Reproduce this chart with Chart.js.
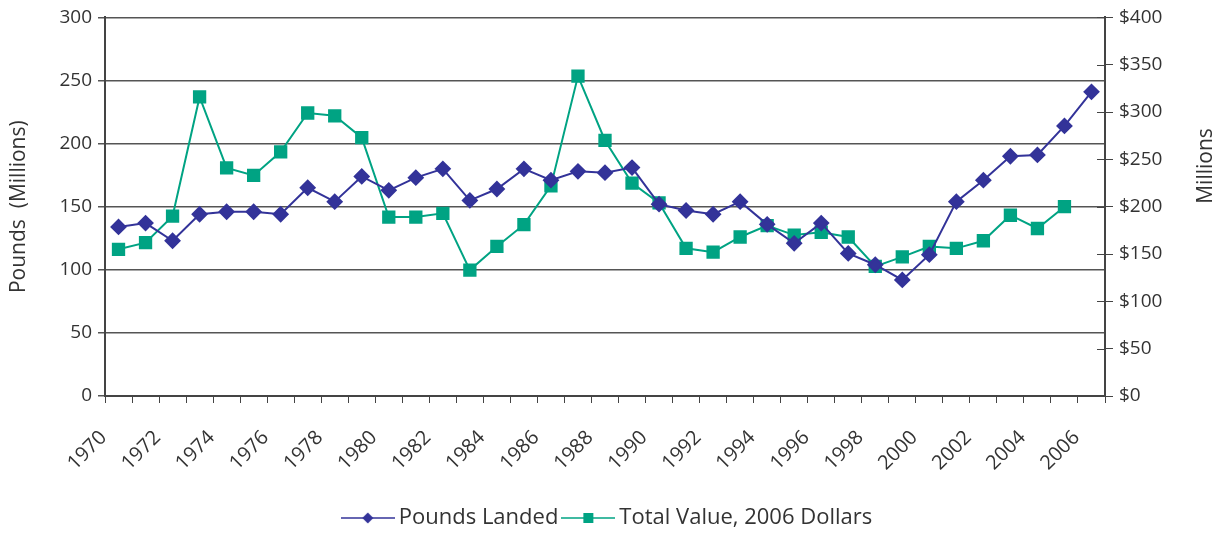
<!DOCTYPE html>
<html>
<head>
<meta charset="utf-8">
<script src="https://cdn.jsdelivr.net/npm/chart.js@4.4.1/dist/chart.umd.min.js"></script>
<style>
  html, body { margin: 0; padding: 0; background: #fff; }
  #wrap { width: 1220px; height: 535px; }
</style>
</head>
<body>
<div id="wrap"><canvas id="chart"></canvas></div>
<script>
// Data
var years = [];
for (var y = 1970; y <= 2006; y++) years.push(String(y));

var poundsLanded = [134, 137, 123, 144, 146, 146, 144, 165, 154, 174, 163, 173, 180, 155, 164, 180, 171, 178, 177, 181,
                    152, 147, 144, 154, 136, 121, 137, 113, 104, 92, 112, 154, 171, 190, 191, 214, 241];
var totalValue = [155, 162, 190, 316, 241, 233, 258, 299, 296, 273, 189, 189, 193, 133, 158, 181, 222, 338, 270, 225,
                  204, 156, 152, 168, 180, 170, 173, 168, 137, 147, 158, 156, 164, 191, 177, 200, null];

var navy = "#333399";
var teal = "#00A383";
var textColor = "#333333";
var axisColor = "#444444";
var fontFamily = "'Open Sans', sans-serif";

// legend swatch: a short line with the marker in the middle
function swatch(color, style) {
    var c = document.createElement("canvas");
    c.width = 54; c.height = 14;
    var g = c.getContext("2d");
    g.strokeStyle = color;
    g.lineWidth = 1.6;
    g.beginPath(); g.moveTo(0, 7); g.lineTo(54, 7); g.stroke();
    g.fillStyle = color;
    g.beginPath();
    if (style === "diamond") {
        g.moveTo(27, 1.5); g.lineTo(32.5, 7); g.lineTo(27, 12.5); g.lineTo(21.5, 7);
    } else {
        g.rect(22, 2, 10, 10);
    }
    g.closePath(); g.fill();
    return c;
}

// right axis: ticks crossing the line and title reading upwards
var rightAxisExtras = {
    id: "rightAxisExtras",
    afterDraw: function (chart) {
        var s = chart.scales.y2;
        var g = chart.ctx;
        g.save();
        g.strokeStyle = axisColor;
        g.lineWidth = 1;
        s.ticks.forEach(function (t) {
            var py = Math.round(s.getPixelForValue(t.value)) + 0.5;
            g.beginPath(); g.moveTo(s.left - 8, py); g.lineTo(s.left, py); g.stroke();
        });
        g.translate(1206, 166);
        g.rotate(-Math.PI / 2);
        g.fillStyle = textColor;
        g.font = "21px " + fontFamily;
        g.textAlign = "center";
        g.textBaseline = "middle";
        g.fillText("Millions", 0, 0);
        g.restore();
    }
};

var ctx = document.getElementById("chart").getContext("2d");
var chart = new Chart(ctx, {
    type: "line",
    data: {
        labels: years,
        datasets: [{
            label: "Pounds Landed",
            data: poundsLanded,
            yAxisID: "y",
            borderColor: navy,
            backgroundColor: navy,
            borderWidth: 2,
            pointStyle: "rectRot",
            pointRadius: 7,
            pointHoverRadius: 7,
            tension: 0
        }, {
            label: "Total Value, 2006 Dollars",
            data: totalValue,
            yAxisID: "y2",
            borderColor: teal,
            backgroundColor: teal,
            borderWidth: 2,
            pointStyle: "rect",
            pointRadius: 8,
            pointHoverRadius: 8,
            tension: 0
        }]
    },
    plugins: [rightAxisExtras],
    options: {
        responsive: true,
        maintainAspectRatio: false,
        animation: false,
        layout: { padding: { top: 10, right: 0, left: 0, bottom: -4 } },
        plugins: {
            tooltip: { enabled: false },
            legend: {
                position: "bottom",
                labels: {
                    usePointStyle: true,
                    pointStyleWidth: 40,
                    color: textColor,
                    font: { family: fontFamily, size: 22 },
                    padding: 10,
                    generateLabels: function (chart) {
                        return chart.data.datasets.map(function (ds, i) {
                            return {
                                text: ds.label,
                                fontColor: textColor,
                                pointStyle: swatch(ds.borderColor, i === 0 ? "diamond" : "square"),
                                datasetIndex: i,
                                hidden: false,
                                lineWidth: 0
                            };
                        });
                    }
                }
            }
        },
        scales: {
            x: {
                offset: true,
                grid: {
                    offset: true,
                    drawOnChartArea: false,
                    drawTicks: true,
                    tickLength: 7,
                    color: axisColor
                },
                border: { color: axisColor, width: 2 },
                ticks: {
                    autoSkip: false,
                    maxRotation: 45,
                    minRotation: 45,
                    labelOffset: -15,
                    padding: 23,
                    color: textColor,
                    font: { family: fontFamily, size: 20 },
                    callback: function (v, i) { return i % 2 === 0 ? years[i] : ""; }
                },
                afterFit: function (s) { s.height = 101; }
            },
            y: {
                position: "left",
                min: 0, max: 300,
                ticks: { stepSize: 50, color: textColor, font: { family: fontFamily, size: 19 }, padding: 6 },
                grid: { color: "#555", lineWidth: 1.5, tickLength: 7 },
                border: { color: axisColor, width: 2 },
                title: { display: true, text: "Pounds  (Millions)", color: textColor, font: { family: fontFamily, size: 21 }, padding: { top: 6, bottom: 0 } },
                afterFit: function (s) { s.width = 105; }
            },
            y2: {
                position: "right",
                min: 0, max: 400,
                ticks: {
                    stepSize: 50, color: textColor, font: { family: fontFamily, size: 19 }, padding: 6,
                    callback: function (v) { return "$" + v; }
                },
                grid: { drawOnChartArea: false, color: axisColor, tickLength: 8 },
                border: { color: axisColor, width: 2 },
                afterFit: function (s) { s.width = 115; }
            }
        }
    }
});
</script>
</body>
</html>
